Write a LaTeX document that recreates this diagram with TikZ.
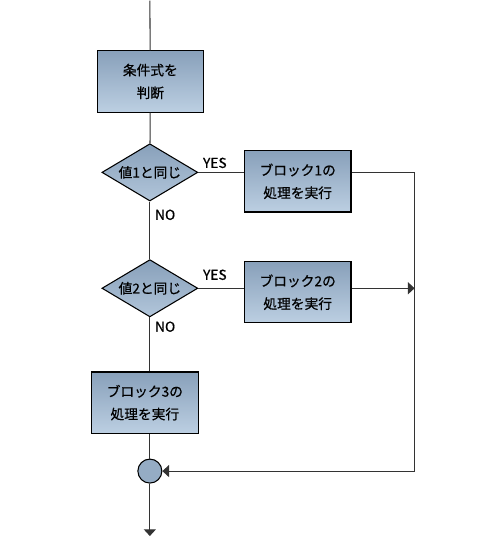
\documentclass[tikz,border=0pt]{standalone}
\usepackage{fontspec}
\setmainfont[FakeBold=0.6]{Noto Sans CJK JP}
\usetikzlibrary{shapes.geometric, arrows.meta}

\definecolor{boxtop}{HTML}{88A0BA}
\definecolor{boxbot}{HTML}{BCCFE2}
\definecolor{linegray}{HTML}{333333}

\tikzset{
  procbox/.style={draw=black, line width=0.8pt, top color=boxtop, bottom color=boxbot,
    minimum width=80pt, minimum height=46pt, align=center, font=\fontsize{10.3}{17}\selectfont},
  decision/.style={diamond, draw=black, line width=0.8pt, top color=boxtop, bottom color=boxbot!80!boxtop,
    aspect=1.67, inner sep=0pt, minimum width=72pt, minimum height=43pt, font=\fontsize{10.3}{12}\selectfont},
  joint/.style={circle, draw=black, line width=0.8pt, fill=boxtop!75!boxbot, minimum size=18pt, inner sep=0pt},
  flow/.style={draw=linegray, line width=0.8pt},
  tip/.style={-{Triangle[length=5pt,width=9pt]}},
  branchlabel/.style={inner sep=0pt, font=\fontsize{10.3}{12}\selectfont}
}

\begin{document}
\begin{tikzpicture}[x=0.75pt,y=0.75pt,yscale=-1,xscale=1]
\path (0,0) rectangle (500,560); %diagram size

% Process Nodes
\node [procbox] (judge) at (150.5,81) {条件式を\\判断};
\node [procbox] (blockA) at (298,181) {ブロック1の\\処理を実行};
\node [procbox] (blockB) at (298,292) {ブロック2の\\処理を実行};
\node [procbox] (blockC) at (145,402.5) {ブロック3の\\処理を実行};

% Decision Nodes
\node [decision] (caseA) at (150,172) {値1と同じ};
\node [decision] (caseB) at (150,288) {値2と同じ};

% Join Node
\node [joint] (merge) at (150,471) {};

% Free ends
\coordinate (start) at (150,0);
\coordinate (finish) at (150,536);
\coordinate (rail) at (415,172);

% Straight Lines
\draw [flow] (start) -- (judge);
\draw [flow] (judge) -- (caseA);
\draw [flow] (caseA) -- (caseB);
\draw [flow] (caseB.south) -- (caseB.south |- blockC.north);
\draw [flow] (blockC.south -| merge) -- (merge);
\draw [flow, tip] (merge) -- (finish);
\draw [flow] (caseA.east) -- (caseA.east -| blockA.west);
\draw [flow] (caseB.east) -- (caseB.east -| blockB.west);
\draw [flow, tip] (blockA.east |- rail) -- (rail) -- (rail |- merge) -- (merge);
\draw [flow, tip] (blockB.east |- caseB) -- (rail |- caseB);

% Text Node
\node [branchlabel, anchor=south west] (yesA) at (203,168) {YES};
\node [branchlabel, anchor=south west] (yesB) at (203,280) {YES};
\node [branchlabel, anchor=north west] (noA) at (155,209) {NO};
\node [branchlabel, anchor=north west] (noB) at (155,321) {NO};

\end{tikzpicture}
\end{document}
